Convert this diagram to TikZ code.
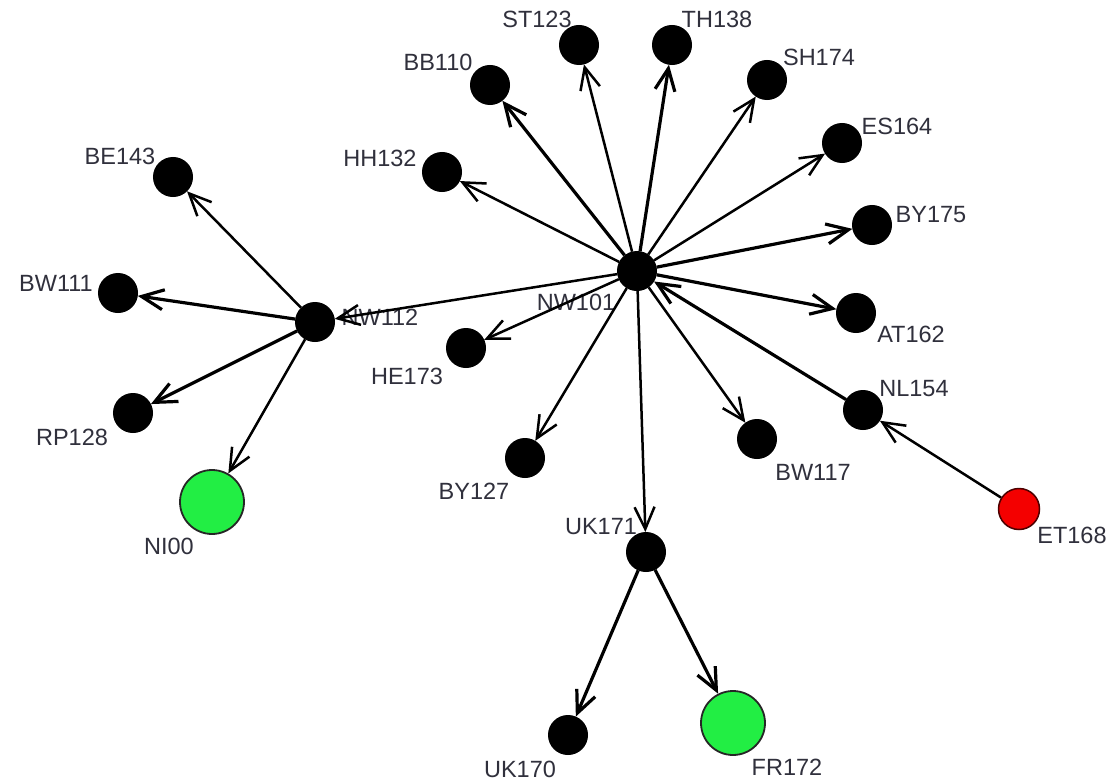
\documentclass[tikz,border=0pt]{standalone}
\usepackage{fontspec}
\setmainfont{Liberation Sans}
\usetikzlibrary{arrows.meta}
\pgfdeclarelayer{canvas}
\pgfdeclarelayer{labels}
\pgfdeclarelayer{links}
\pgfsetlayers{canvas,labels,links,main}
\definecolor{labelgray}{HTML}{30303C}
\definecolor{leafgreen}{HTML}{22EE44}
\definecolor{rootred}{HTML}{F40000}
\tikzset{
  vertex/.style={circle, fill=black, draw=black, line width=1pt, minimum size=39pt, inner sep=0pt},
  bigvertex/.style={circle, fill=leafgreen, draw=black!85, line width=1.8pt, minimum size=64pt, inner sep=0pt},
  redvertex/.style={circle, fill=rootred, draw=black!70!red, line width=1.5pt, minimum size=41pt, inner sep=0pt},
  lbl/.style={text=labelgray, font=\fontsize{23.5}{26}\selectfont, inner sep=0pt},
  link/.style={line width=2.5pt, -{Straight Barb[length=22pt,width=20pt]}},
  heavy/.style={line width=3.2pt}
}
\begin{document}
\begin{tikzpicture}[x=1pt,y=-1pt]
\useasboundingbox (0,0) rectangle (1113,781);
\begin{pgfonlayer}{canvas}
\fill[white] (0,0) rectangle (1113,781);
\end{pgfonlayer}

% vertices
\node[vertex] (nw101) at (637,271) {};
\node[vertex] (st123) at (579,45) {};
\node[vertex] (th138) at (672,45) {};
\node[vertex] (bb110) at (490,85) {};
\node[vertex] (sh174) at (767,80) {};
\node[vertex] (es164) at (842,143) {};
\node[vertex] (by175) at (872,225) {};
\node[vertex] (at162) at (856,313) {};
\node[vertex] (nl154) at (863,410) {};
\node[vertex] (bw117) at (757,439) {};
\node[vertex] (uk171) at (646,552) {};
\node[vertex] (by127) at (525,458) {};
\node[vertex] (he173) at (466,348) {};
\node[vertex] (hh132) at (442,172) {};
\node[vertex] (nw112) at (315,322) {};
\node[vertex] (be143) at (173,177) {};
\node[vertex] (bw111) at (118,293) {};
\node[vertex] (rp128) at (133,413) {};
\node[vertex] (uk170) at (568,735) {};
\node[bigvertex] (ni00) at (212,502) {};
\node[bigvertex] (fr172) at (733,723) {};
\node[redvertex] (et168) at (1019,509) {};

% labels
\begin{pgfonlayer}{labels}
\node[lbl] (l-st123) at (537,19) {ST123};
\node[lbl] (l-th138) at (717,19) {TH138};
\node[lbl] (l-bb110) at (438,62) {BB110};
\node[lbl] (l-sh174) at (819,57) {SH174};
\node[lbl] (l-es164) at (897,126) {ES164};
\node[lbl] (l-by175) at (931,215) {BY175};
\node[lbl] (l-hh132) at (380,158) {HH132};
\node[lbl] (l-be143) at (120,156) {BE143};
\node[lbl] (l-bw111) at (56,283) {BW111};
\node[lbl] (l-nw112) at (380,317) {NW112};
\node[lbl] (l-rp128) at (72,437) {RP128};
\node[lbl] (l-he173) at (407,376) {HE173};
\node[lbl] (l-nw101) at (576,302) {NW101};
\node[lbl] (l-by127) at (474,491) {BY127};
\node[lbl] (l-bw117) at (813,472) {BW117};
\node[lbl] (l-at162) at (911,334) {AT162};
\node[lbl] (l-nl154) at (914,389) {NL154};
\node[lbl] (l-et168) at (1072,535) {ET168};
\node[lbl] (l-uk171) at (601,527) {UK171};
\node[lbl] (l-ni00) at (169,546) {NI00};
\node[lbl] (l-uk170) at (520,769) {UK170};
\node[lbl] (l-fr172) at (787,767) {FR172};
\end{pgfonlayer}

% directed links
\begin{pgfonlayer}{links}
\draw[link, heavy] (nw101) -- (bb110);
\draw[link] (nw101) -- (st123);
\draw[link, heavy] (nw101) -- (th138);
\draw[link] (nw101) -- (sh174);
\draw[link] (nw101) -- (es164);
\draw[link, heavy] (nw101) -- (by175);
\draw[link, heavy] (nw101) -- (at162);
\draw[link] (nw101) -- (bw117);
\draw[link] (nw101) -- (uk171);
\draw[link] (nw101) -- (by127);
\draw[link] (nw101) -- (he173);
\draw[link] (nw101) -- (hh132);
\draw[link] (nw101) -- (nw112);
\draw[link, heavy] (nl154) -- (nw101);
\draw[link] (et168) -- (nl154);
\draw[link] (nw112) -- (be143);
\draw[link, heavy] (nw112) -- (bw111);
\draw[link, heavy] (nw112) -- (rp128);
\draw[link] (nw112) -- (ni00);
\draw[link, heavy] (uk171) -- (uk170);
\draw[link, heavy] (uk171) -- (fr172);
\end{pgfonlayer}
\end{tikzpicture}
\end{document}
